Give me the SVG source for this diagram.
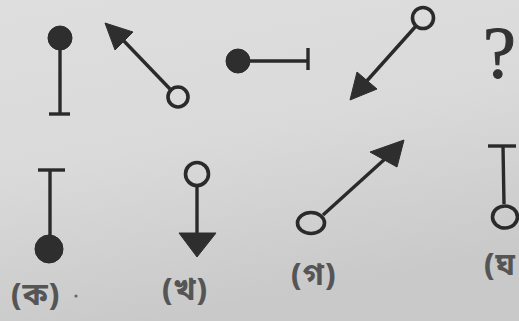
<svg xmlns="http://www.w3.org/2000/svg" width="519" height="321" viewBox="0 0 519 321">
<defs>
<linearGradient id="bg" x1="0" y1="0" x2="0.3" y2="1">
<stop offset="0" stop-color="#dedede"/>
<stop offset="0.5" stop-color="#dadada"/>
<stop offset="1" stop-color="#c9c9c9"/>
</linearGradient>
<style>
.ln{stroke:#2a2a2a;stroke-width:3.4;fill:none;stroke-linecap:butt}
.dot{fill:#2e2e2e;stroke:#2a2a2a;stroke-width:1}
.ring{fill:none;stroke:#2a2a2a;stroke-width:3.6}
.head{fill:#2e2e2e;stroke:#2e2e2e;stroke-width:1;stroke-linejoin:round}
.lbl{font-family:"Noto Sans Bengali","Lohit Bengali","Noto Serif Bengali","Noto Sans",sans-serif;font-size:31px;font-weight:bold;fill:#555;letter-spacing:1px}
.q{font-family:"Liberation Serif",serif;font-size:74px;fill:#333}
</style>
</defs>
<rect width="519" height="321" fill="url(#bg)"/>
<g id="connectors">
<line class="ln" x1="60" y1="48" x2="60" y2="114"/>
<line class="ln" x1="170" y1="89" x2="122" y2="39"/>
<line class="ln" x1="250" y1="61" x2="308" y2="61"/>
<line class="ln" x1="416" y1="26" x2="365" y2="83"/>
<line class="ln" x1="50" y1="170" x2="50" y2="236"/>
<line class="ln" x1="197" y1="187" x2="197" y2="236"/>
<line class="ln" x1="323" y1="215" x2="386" y2="158"/>
<line class="ln" x1="503" y1="146" x2="504" y2="204"/>
</g>
<g id="fig1">
<circle class="dot" cx="60" cy="38" r="12"/>
<line class="ln" x1="49" y1="114" x2="70" y2="114"/>
</g>
<g id="fig2">
<polygon class="head" points="105,23 133,32 115,50"/>
<circle class="ring" cx="178" cy="97" r="10"/>
</g>
<g id="fig3">
<circle class="dot" cx="238" cy="61" r="12"/>
<line class="ln" x1="308" y1="48" x2="308" y2="70"/>
</g>
<g id="fig4">
<circle class="ring" cx="423" cy="18" r="10.5"/>
<polygon class="head" points="350,100 357,72 377,89"/>
</g>
<g id="fig5">
<text class="q" x="483" y="78" stroke="#333" stroke-width="1">?</text>
</g>
<g id="optA">
<line class="ln" x1="38" y1="170" x2="65" y2="170"/>
<circle class="dot" cx="49" cy="249" r="14"/>
<text class="lbl" x="11" y="305">(ক)</text>
<circle cx="76" cy="296" r="1.6" fill="#666"/>
</g>
<g id="optB">
<circle class="ring" cx="197" cy="174" r="11.5"/>
<polygon class="head" points="179,233 216,233 197,257"/>
<text class="lbl" x="162" y="300">(খ)</text>
</g>
<g id="optC">
<ellipse class="ring" cx="311" cy="223" rx="13.5" ry="10.5"/>
<polygon class="head" points="404,140 370,152 397,167"/>
<text class="lbl" x="291" y="285">(গ)</text>
</g>
<g id="optD">
<line class="ln" x1="488" y1="146" x2="516" y2="146"/>
<ellipse class="ring" cx="505" cy="217" rx="12.5" ry="11"/>
<text class="lbl" x="484" y="275">(ঘ</text>
</g>
</svg>
